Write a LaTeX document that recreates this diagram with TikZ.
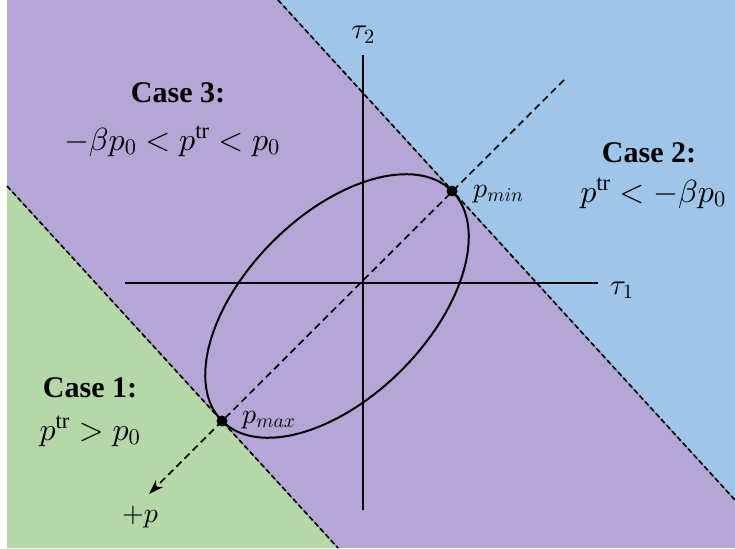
\documentclass[tikz,border=0pt]{standalone}
\usepackage{fontspec}
\setmainfont{Liberation Serif}
\DeclareFontShape{OML}{cmm}{m}{it}{<->cmmi10}{}
\DeclareFontShape{OMS}{cmsy}{m}{n}{<->cmsy10}{}
\DeclareFontShape{OT1}{cmr}{m}{n}{<->cmr10}{}
\usetikzlibrary{arrows.meta}
\definecolor{cgreen}{HTML}{B6D7A8}
\definecolor{cpurple}{HTML}{B4A7D6}
\definecolor{cblue}{HTML}{9FC5E8}
\begin{document}
\begin{tikzpicture}[x=1pt,y=-1pt,
  boundary/.style={black,line width=1.7pt,dash pattern=on 5pt off 3pt},
  boundaryunder/.style={black!55,line width=0.6pt},
  axisline/.style={black,line width=2pt},
  majoraxis/.style={black,line width=1.7pt,dash pattern=on 7pt off 4.5pt},
  casetitle/.style={anchor=base,inner sep=0pt,font=\fontsize{30}{34}\selectfont\bfseries},
  casemath/.style={anchor=base,inner sep=0pt,font=\fontsize{32}{36}\selectfont},
  ptlabel/.style={anchor=base west,inner sep=0pt,font=\fontsize{28}{30}\selectfont},
  axlabel/.style={inner sep=0pt,font=\fontsize{29}{32}\selectfont}]
\useasboundingbox (0,0) rectangle (735,548);
\fill[white] (0,0) rectangle (735,548);
% regions
\fill[cpurple] (7,0) rectangle (735,548);
\coordinate (lowA) at (7,186);
\coordinate (lowB) at (338,548);
\coordinate (upA) at (278,0);
\coordinate (upB) at (735,500);
\fill[cgreen] (lowA) -- (lowB) -- (7,548) -- cycle;
\fill[cblue] (upA) -- (735,0) -- (upB) -- cycle;
\draw[boundaryunder] (lowA) -- (lowB);
\draw[boundary] (lowA) -- (lowB);
\draw[boundaryunder] (upA) -- (upB);
\draw[boundary] (upA) -- (upB);
% axes
\coordinate (xL) at (125,283);
\coordinate (xR) at (598,283);
\coordinate (yT) at (363,55);
\coordinate (yB) at (363,510);
\draw[axisline] (xL) -- (xR);
\draw[axisline] (yT) -- (yB);
\node[axlabel,anchor=base west] (tau1) at (610,294) {$\tau_1$};
\node[axlabel,anchor=base] (tau2) at (363,39) {$\tau_2$};
% ellipse
\coordinate (ec) at (337,306);
\draw[axisline,rotate around={45:(ec)}] (ec) ellipse [x radius=162.6pt, y radius=91pt];
% major axis
\coordinate (pmax) at (222,421);
\coordinate (pmin) at (452,191);
\coordinate (axtop) at (564,80);
\coordinate (axtip) at (149,494);
\draw[majoraxis,-{Stealth[length=15pt,width=10pt]}] (axtop) -- (axtip);
\fill (pmax) circle [radius=5.5pt];
\fill (pmin) circle [radius=5.5pt];
\node[ptlabel] (lmin) at (473,197) {$p_{min}$};
\node[ptlabel] (lmax) at (242,423) {$p_{max}$};
\node[anchor=base,inner sep=0pt,font=\fontsize{28}{32}\selectfont] (plus) at (140,522) {$+p$};
% case texts
\node[casetitle] (c3t) at (178,103) {Case 3:};
\node[casemath] (c3m) at (172,150) {$-\beta p_0 < p^{\mathrm{tr}} < p_0$};
\node[casetitle] (c2t) at (649,162) {Case 2:};
\node[casemath] (c2m) at (653,202) {$p^{\mathrm{tr}} < -\beta p_0$};
\node[casetitle] (c1t) at (90,397) {Case 1:};
\node[casemath] (c1m) at (90,440) {$p^{\mathrm{tr}} > p_0$};
\end{tikzpicture}
\end{document}
